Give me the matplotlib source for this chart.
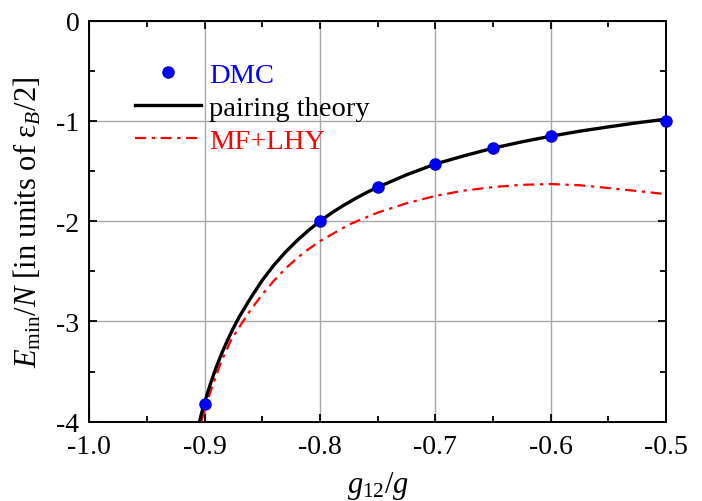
import numpy as np
import matplotlib
matplotlib.use("Agg")
import matplotlib.pyplot as plt
from matplotlib.ticker import MultipleLocator

#fonts: Times-like serif everywhere, hyphen minus signs
plt.rcParams["font.family"] = ["Liberation Serif", "DejaVu Serif"]
plt.rcParams["mathtext.fontset"] = "custom"
plt.rcParams["mathtext.rm"] = "Liberation Serif"
plt.rcParams["mathtext.it"] = "Liberation Serif:italic"
plt.rcParams["axes.unicode_minus"] = False

#DMC data points
g_dmc = [-0.9, -0.8, -0.75, -0.7, -0.65, -0.6, -0.5]
e_dmc = [-3.82, -2.0, -1.66, -1.43, -1.27, -1.155, -1.0]

#pairing theory curve
g_pair = [-0.9044, -0.902, -0.9, -0.895, -0.89, -0.885, -0.88, -0.875, -0.87,
          -0.86, -0.85, -0.84, -0.83, -0.82, -0.81, -0.8, -0.79, -0.78,
          -0.77, -0.76, -0.75, -0.725, -0.7, -0.675, -0.65, -0.625, -0.6,
          -0.575, -0.55, -0.525, -0.5]
e_pair = [-4.0, -3.89, -3.81, -3.625, -3.46, -3.315, -3.185, -3.065, -2.955,
          -2.765, -2.59, -2.44, -2.31, -2.195, -2.093, -2.0, -1.919, -1.846,
          -1.779, -1.717, -1.662, -1.538, -1.43, -1.348, -1.272, -1.209,
          -1.153, -1.103, -1.06, -1.019, -0.983]

#mean field + LHY curve
g_mf = [-0.9029, -0.8986, -0.8928, -0.8855, -0.8768, -0.8667, -0.86, -0.85,
        -0.84, -0.83, -0.82, -0.81, -0.8, -0.775, -0.75, -0.725, -0.7,
        -0.675, -0.65, -0.625, -0.6, -0.575, -0.55, -0.525, -0.5]
e_mf = [-4.0, -3.83, -3.63, -3.40, -3.18, -3.0, -2.885, -2.73,
        -2.595, -2.475, -2.37, -2.28, -2.2, -2.035, -1.915, -1.822, -1.748,
        -1.695, -1.66, -1.638, -1.63, -1.642, -1.67, -1.7, -1.731]

fig = plt.figure(figsize=(7.02, 5.02), dpi=100)
ax = fig.add_axes([0.127, 0.158, 0.822, 0.799])

ax.grid(True, color="#a8a8a8", linewidth=1.0)
ax.set_axisbelow(True)

ax.plot(g_dmc, e_dmc, "o", color="blue", markersize=8,
        markeredgecolor="#0000cc", label="DMC", zorder=5, clip_on=False)
ax.plot(g_pair, e_pair, "-", color="black", linewidth=2.4,
        label="pairing theory", zorder=4)
ax.plot(g_mf, e_mf, color="red", linewidth=1.6, dashes=(5, 2.5, 1.5, 2.5),
        label="MF+LHY", zorder=3)

ax.set_xlim(-1.0, -0.5)
ax.set_ylim(-4, 0)
ax.xaxis.set_major_locator(MultipleLocator(0.1))
ax.xaxis.set_minor_locator(MultipleLocator(0.05))
ax.yaxis.set_major_locator(MultipleLocator(1))
ax.yaxis.set_minor_locator(MultipleLocator(0.5))
ax.xaxis.set_major_formatter(plt.FormatStrFormatter("%.1f"))
ax.yaxis.set_major_formatter(plt.FormatStrFormatter("%d"))

ax.tick_params(which="both", direction="in", top=True, right=True,
               width=1.3, labelsize=20)
ax.tick_params(which="major", length=6)
ax.tick_params(which="minor", length=4)
ax.tick_params(axis="x", pad=9)
ax.tick_params(axis="y", pad=7)
for s in ax.spines.values():
    s.set_linewidth(1.4)

ax.set_xlabel(r"$g_{12}/g$", fontsize=22, labelpad=7)
ax.set_ylabel(r"$E_{\rm min}/N$ [in units of ε$_B$/2]", fontsize=22,
              labelpad=9)

leg = ax.legend(loc="upper left", bbox_to_anchor=(0.06, 0.925), frameon=False,
                fontsize=20.5, handlelength=2.3, handletextpad=0.3,
                labelspacing=0.25, borderaxespad=0)
for txt, col in zip(leg.get_texts(), ["blue", "black", "red"]):
    txt.set_color(col)

plt.savefig("out.png", dpi=100)
